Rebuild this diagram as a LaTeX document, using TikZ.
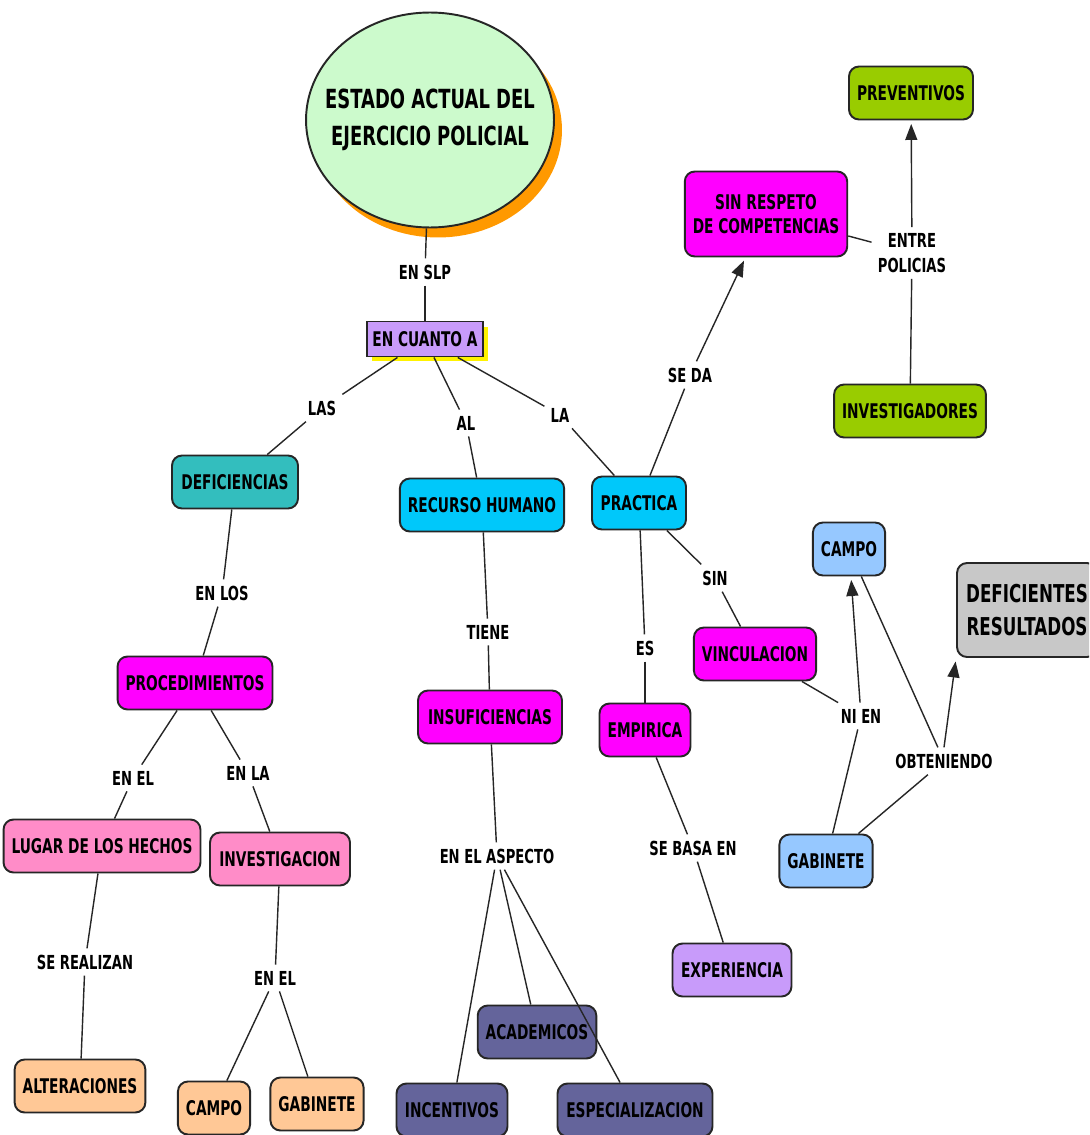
\documentclass[tikz,border=0pt]{standalone}
\usepackage{fontspec}
\usetikzlibrary{shapes.geometric,shadows,arrows.meta}
\newfontfamily\mapfont{DejaVu Sans}[FakeStretch=0.68]

\definecolor{ellgreen}{RGB}{204,250,204}
\definecolor{ellorange}{RGB}{255,153,0}
\definecolor{lilac}{RGB}{200,155,250}
\definecolor{teal}{RGB}{51,190,190}
\definecolor{cyan}{RGB}{0,200,250}
\definecolor{magenta}{RGB}{255,0,255}
\definecolor{pink}{RGB}{255,140,200}
\definecolor{peach}{RGB}{255,200,150}
\definecolor{slate}{RGB}{100,100,155}
\definecolor{olive}{RGB}{153,204,0}
\definecolor{skyblue}{RGB}{150,200,255}
\definecolor{grey}{RGB}{200,200,200}

\tikzset{
  concept/.style={draw=black!85, line width=1.1pt, rounded corners=0.2cm,
    minimum height=1.06cm, inner xsep=0.16cm, align=center,
    font=\mapfont\bfseries\fontsize{11.5}{14}\selectfont, text=black},
  link/.style={inner sep=0.12cm, align=center,
    font=\mapfont\bfseries\fontsize{11}{14}\selectfont},
  conn/.style={line width=0.8pt, black!85},
  arr/.style={conn, -{Triangle[length=0.32cm,width=0.24cm]}, shorten >=2pt},
}

\begin{document}
\begin{tikzpicture}[x=0.02cm, y=-0.02cm]
\clip (0,0) rectangle (1089,1135);
\fill[white] (0,0) rectangle (1089,1135);

% centro
\node[ellipse, draw=black!85, line width=1.1pt, fill=ellgreen,
  minimum width=4.96cm, minimum height=4.3cm, inner sep=0pt,
  drop shadow={shadow xshift=0.16cm, shadow yshift=-0.2cm, fill=ellorange, opacity=1}]
  (estado) at (430,120) {};
\node[align=center, font=\mapfont\bfseries\fontsize{15}{21}\selectfont]
  (titulo) at (estado.center) {ESTADO ACTUAL DEL\\EJERCICIO POLICIAL};
\node[link] (slp) at (425,272) {EN SLP};
\node[draw=black!85, line width=1.1pt, fill=lilac, minimum width=2.22cm, minimum height=0.7cm,
  font=\mapfont\bfseries\fontsize{11.5}{14}\selectfont,
  drop shadow={shadow xshift=0.1cm, shadow yshift=-0.1cm, fill=yellow, opacity=1}]
  (cuanto) at (425,339) {EN CUANTO A};

\node[link] (las) at (322,408) {LAS};
\node[link] (al)  at (466,423) {AL};
\node[link] (la)  at (560,415) {LA};

% deficiencias
\node[concept, fill=teal, minimum width=2.52cm] (defic) at (235,482) {DEFICIENCIAS};
\node[link] (enlos) at (222,593) {EN LOS};
\node[concept, fill=magenta, minimum width=3.08cm] (proced) at (195,683) {PROCEDIMIENTOS};
\node[link] (enel) at (133,778) {EN EL};
\node[link] (enla) at (248,773) {EN LA};
\node[concept, fill=pink, minimum width=3.78cm] (lugar) at (102,846) {LUGAR DE LOS HECHOS};
\node[concept, fill=pink, minimum width=2.8cm] (invest) at (280,859) {INVESTIGACION};
\node[link] (realizan) at (85,962) {SE REALIZAN};
\node[concept, fill=peach, minimum width=2.6cm] (alter) at (80,1086) {ALTERACIONES};
\node[link] (enelb) at (275,978) {EN EL};
\node[concept, fill=peach, minimum width=1.36cm] (campoa) at (214,1108) {CAMPO};
\node[concept, fill=peach, minimum width=1.72cm] (gabinetea) at (317,1104) {GABINETE};

% recurso humano
\node[concept, fill=cyan, minimum width=3.22cm] (recurso) at (482,505) {RECURSO HUMANO};
\node[link] (tiene) at (488,632) {TIENE};
\node[concept, fill=magenta, minimum width=2.88cm] (insuf) at (490,717) {INSUFICIENCIAS};
\node[link] (aspecto) at (497,856) {EN EL ASPECTO};
\node[concept, fill=slate, minimum width=2.22cm] (incent) at (452,1110) {INCENTIVOS};
\node[concept, fill=slate, minimum width=2.34cm] (academ) at (537,1032) {ACADEMICOS};
\node[concept, fill=slate, minimum width=3.1cm] (especial) at (635,1110) {ESPECIALIZACION};

% practica
\node[concept, fill=cyan, minimum width=1.88cm] (practica) at (639,503) {PRACTICA};
\node[link] (es) at (645,648) {ES};
\node[concept, fill=magenta, minimum width=1.82cm] (empirica) at (645,730) {EMPIRICA};
\node[link] (basa) at (693,848) {SE BASA EN};
\node[concept, fill=lilac, minimum width=2.38cm] (exper) at (732,970) {EXPERIENCIA};
\node[link] (sin) at (715,578) {SIN};
\node[concept, fill=magenta, minimum width=2.44cm] (vinc) at (755,654) {VINCULACION};
\node[link] (seda) at (690,375) {SE DA};
\node[concept, fill=magenta, minimum width=3.14cm, minimum height=1.7cm] (respeto) at (766,214) {SIN RESPETO\\DE COMPETENCIAS};
\node[link] (entre) at (912,253) {ENTRE\\POLICIAS};
\node[concept, fill=olive, minimum width=2.42cm] (prevent) at (911,93) {PREVENTIVOS};
\node[concept, fill=olive, minimum width=3.02cm] (investig) at (910,411) {INVESTIGADORES};
\node[link] (nien) at (861,716) {NI EN};
\node[concept, fill=skyblue, minimum width=1.36cm] (campob) at (849,549) {CAMPO};
\node[concept, fill=skyblue, minimum width=1.78cm] (gabineteb) at (826,861) {GABINETE};
\node[link] (obten) at (944,761) {OBTENIENDO};
\node[concept, fill=grey, minimum width=2.8cm, minimum height=1.88cm,
  font=\mapfont\bfseries\fontsize{14}{19}\selectfont] (result) at (1027,610) {DEFICIENTES\\RESULTADOS};

% conectores
\draw[conn] (estado) -- (slp);
\draw[conn] (slp) -- (cuanto);
\draw[conn] (cuanto) -- (las);
\draw[conn] (las) -- (defic);
\draw[conn] (cuanto) -- (al);
\draw[conn] (al) -- (recurso);
\draw[conn] (cuanto) -- (la);
\draw[conn] (la) -- (practica);

\draw[conn] (defic) -- (enlos);
\draw[conn] (enlos) -- (proced);
\draw[conn] (proced) -- (enel);
\draw[conn] (enel) -- (lugar);
\draw[conn] (proced) -- (enla);
\draw[conn] (enla) -- (invest);
\draw[conn] (lugar) -- (realizan);
\draw[conn] (realizan) -- (alter);
\draw[conn] (invest) -- (enelb);
\draw[conn] (enelb) -- (campoa);
\draw[conn] (enelb) -- (gabinetea);

\draw[conn] (recurso) -- (tiene);
\draw[conn] (tiene) -- (insuf);
\draw[conn] (insuf) -- (aspecto);
\draw[conn] (aspecto) -- (incent);
\draw[conn] (aspecto) -- (academ);
\draw[conn] (aspecto) -- (especial);

\draw[conn] (practica) -- (es);
\draw[conn] (es) -- (empirica);
\draw[conn] (empirica) -- (basa);
\draw[conn] (basa) -- (exper);
\draw[conn] (practica) -- (sin);
\draw[conn] (sin) -- (vinc);
\draw[conn] (practica) -- (seda);
\draw[arr] (seda) -- (respeto);
\draw[conn] (respeto) -- (entre);
\draw[arr] (entre) -- (prevent);
\draw[conn] (investig) -- (entre);

\draw[conn] (vinc) -- (nien);
\draw[arr] (nien) -- (campob);
\draw[conn] (gabineteb) -- (nien);
\draw[conn] (campob) -- (obten);
\draw[conn] (gabineteb) -- (obten);
\draw[arr] (obten.north) -- (result.south west);
\end{tikzpicture}
\end{document}
